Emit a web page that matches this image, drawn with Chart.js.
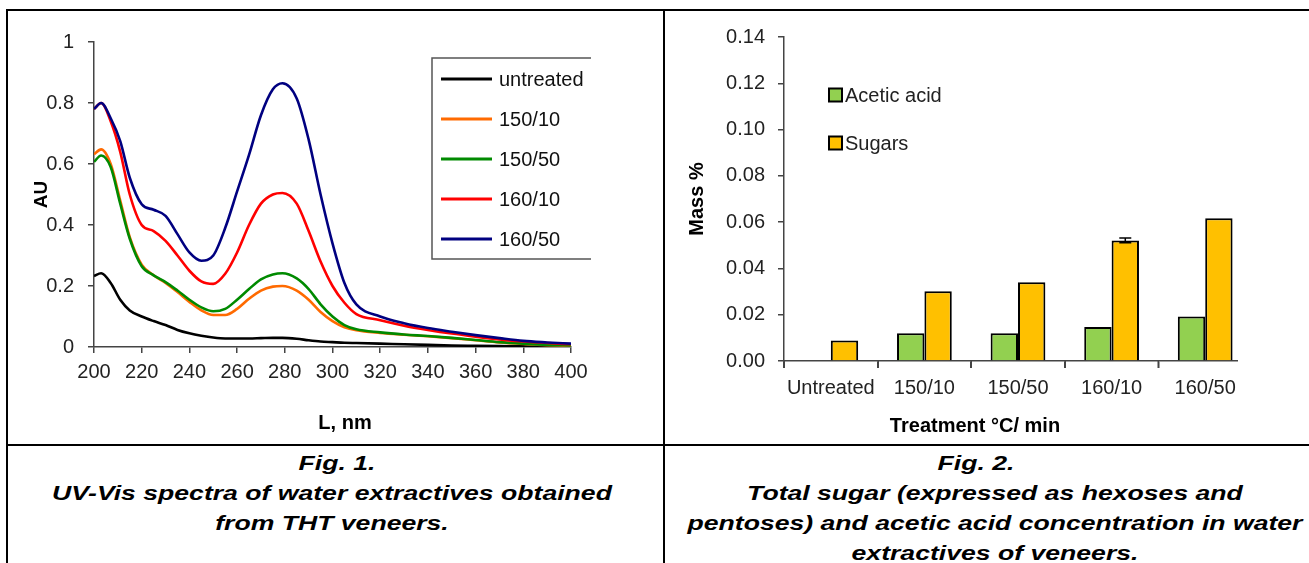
<!DOCTYPE html>
<html><head><meta charset="utf-8">
<script src="https://cdn.jsdelivr.net/npm/chart.js@4.4.1/dist/chart.umd.min.js"></script>
<style>
html,body{margin:0;padding:0;background:#fff;width:1309px;height:563px;overflow:hidden;position:relative;font-family:"Liberation Sans",Arial,sans-serif;}
.hl{position:absolute;background:#000;}
.clip{position:absolute;overflow:hidden;}
.cap{position:absolute;width:900px;text-align:center;font:italic bold 20px "Liberation Sans",Arial,sans-serif;line-height:30px;height:30px;white-space:nowrap;transform:scaleX(1.33);transform-origin:center;color:#000;}
</style></head><body>
<div class="hl" style="left:6px;top:9px;width:1303px;height:2px"></div>
<div class="hl" style="left:6px;top:9px;width:2px;height:554px"></div>
<div class="hl" style="left:663px;top:9px;width:2px;height:554px"></div>
<div class="hl" style="left:6px;top:444px;width:1303px;height:2px"></div>

<div class="clip" style="left:9px;top:12px;width:582px;height:432px"><canvas id="c1" width="672" height="432"></canvas></div>
<div class="clip" style="left:665px;top:12px;width:573px;height:432px"><canvas id="c2" width="620" height="432"></canvas></div>

<div class="cap" style="left:-113px;top:448px">Fig. 1.</div>
<div class="cap" style="left:-118px;top:478px">UV-Vis spectra of water extractives obtained</div>
<div class="cap" style="left:-118px;top:508px">from THT veneers.</div>
<div class="cap" style="left:526px;top:448px">Fig. 2.</div>
<div class="cap" style="left:545px;top:478px">Total sugar (expressed as hexoses and</div>
<div class="cap" style="left:545px;top:508px">pentoses) and acetic acid concentration in water</div>
<div class="cap" style="left:545px;top:538px">extractives of veneers.</div>

<script>
// ---------- Fig. 1 data (UV-Vis spectra) ----------
const wavelengths = [200,203,207,211,215,220,225,230,235,240,245,250,255,260,265,270,275,279,285,290,295,300,305,310,320,330,340,350,360,370,380,390,400];
const untreated = [0.233,0.242,0.21,0.155,0.12,0.10,0.085,0.072,0.056,0.045,0.037,0.031,0.028,0.028,0.028,0.029,0.030,0.030,0.027,0.022,0.018,0.016,0.014,0.013,0.011,0.009,0.007,0.005,0.004,0.003,0.002,0.001,0.001];
const t150_10 = [0.632,0.648,0.60,0.48,0.36,0.27,0.235,0.21,0.18,0.148,0.12,0.105,0.105,0.125,0.158,0.185,0.198,0.200,0.185,0.155,0.115,0.085,0.065,0.055,0.046,0.040,0.035,0.029,0.022,0.015,0.010,0.006,0.004];
const t150_50 = [0.607,0.628,0.59,0.47,0.355,0.265,0.235,0.213,0.185,0.155,0.13,0.117,0.125,0.155,0.19,0.222,0.238,0.242,0.225,0.19,0.14,0.10,0.072,0.058,0.048,0.041,0.036,0.030,0.023,0.016,0.011,0.007,0.005];
const t160_10 = [0.78,0.80,0.74,0.64,0.50,0.40,0.38,0.348,0.30,0.25,0.215,0.207,0.24,0.31,0.40,0.47,0.50,0.505,0.47,0.38,0.28,0.20,0.145,0.108,0.088,0.07,0.056,0.044,0.034,0.025,0.018,0.013,0.009];
const t160_50 = [0.78,0.80,0.75,0.675,0.555,0.468,0.45,0.43,0.37,0.31,0.283,0.30,0.39,0.51,0.63,0.76,0.845,0.865,0.815,0.68,0.50,0.34,0.21,0.14,0.10,0.078,0.062,0.05,0.039,0.029,0.02,0.015,0.011];
const spectraLabels = ['untreated','150/10','150/50','160/10','160/50'];
const spectraColors = ['#000000','#FF6A00','#008A00','#FF0000','#000080'];
const auTickLabels = ['0','0.2','0.4','0.6','0.8','1'];

// ---------- Fig. 2 data (sugars / acetic acid) ----------
const treatments = ['Untreated','150/10','150/50','160/10','160/50'];
const aceticAcid = [null,0.012,0.012,0.0147,0.0192];
const sugars = [0.0089,0.0301,0.034,0.0521,0.0617];
const sugarsErr = [0,0,0,0.001,0];
const massTickLabels = ['0.00','0.02','0.04','0.06','0.08','0.10','0.12','0.14'];

Chart.defaults.font.family = '"Liberation Sans", Arial, sans-serif';
Chart.defaults.color = '#222';
const AX = '#444';

const lineLegend = {
  id:'lineLegend',
  afterDraw(chart, args, o){
    const ctx = chart.ctx; ctx.save();
    ctx.strokeStyle = '#555'; ctx.lineWidth = 1.5;
    ctx.strokeRect(o.x, o.y, o.w, o.h);
    ctx.font = '20px "Liberation Sans", Arial, sans-serif';
    ctx.textBaseline = 'middle'; ctx.fillStyle = '#111';
    chart.data.datasets.forEach((d,i)=>{
      const yy = o.y + o.first + i*o.step;
      ctx.strokeStyle = d.borderColor; ctx.lineWidth = 3;
      ctx.beginPath(); ctx.moveTo(o.x+o.l0, yy); ctx.lineTo(o.x+o.l1, yy); ctx.stroke();
      ctx.fillText(d.label, o.x+o.tx, yy+1);
    });
    ctx.restore();
  }
};

const boxLegend = {
  id:'boxLegend',
  afterDraw(chart, args, o){
    const ctx = chart.ctx; ctx.save();
    ctx.font = '20px "Liberation Sans", Arial, sans-serif';
    ctx.textBaseline = 'middle';
    chart.data.datasets.forEach((d,i)=>{
      const yy = o.y + i*o.step;
      ctx.fillStyle = d.backgroundColor; ctx.fillRect(o.x, yy-o.s/2, o.s, o.s);
      ctx.strokeStyle = '#000'; ctx.lineWidth = 2; ctx.strokeRect(o.x, yy-o.s/2, o.s, o.s);
      ctx.fillStyle = '#222'; ctx.fillText(d.label, o.x+o.s+3, yy+1);
    });
    ctx.restore();
  }
};

const errorBars = {
  id:'errorBars',
  afterDatasetsDraw(chart, args, o){
    const meta = chart.getDatasetMeta(o.datasetIndex);
    const ys = chart.scales.y, ctx = chart.ctx;
    const vals = chart.data.datasets[o.datasetIndex].data;
    ctx.save(); ctx.strokeStyle = '#000'; ctx.lineWidth = 1.5;
    meta.data.forEach((bar,i)=>{
      const e = o.errors[i]; if(!e) return;
      const yt = ys.getPixelForValue(vals[i]+e), yb = ys.getPixelForValue(vals[i]-e);
      ctx.beginPath();
      ctx.moveTo(bar.x,yt); ctx.lineTo(bar.x,yb);
      ctx.moveTo(bar.x-6,yt); ctx.lineTo(bar.x+6,yt);
      ctx.moveTo(bar.x-6,yb); ctx.lineTo(bar.x+6,yb);
      ctx.stroke();
    });
    ctx.restore();
  }
};

// tick marks at category boundaries of the bar chart's x axis
const catTicks = {
  id:'catTicks',
  afterDraw(chart, args, o){
    const sx = chart.scales.x, ctx = chart.ctx;
    const n = chart.data.labels.length, w = (sx.right - sx.left) / n;
    ctx.save(); ctx.strokeStyle = o.color; ctx.lineWidth = 1.5;
    ctx.beginPath();
    for (let k = 0; k <= n; k++) {
      const px = Math.round(sx.left + k*w) + 0.25;
      ctx.moveTo(px, sx.top); ctx.lineTo(px, sx.top + o.len);
    }
    ctx.stroke(); ctx.restore();
  }
};

const series = [untreated,t150_10,t150_50,t160_10,t160_50];
new Chart(document.getElementById('c1'), {
  type:'line',
  data:{
    datasets: series.map((arr,i)=>({
      label: spectraLabels[i],
      data: wavelengths.map((x,j)=>({x:x, y:arr[j]})),
      borderColor: spectraColors[i],
      backgroundColor: spectraColors[i],
      borderWidth: 2.6,
      pointRadius: 0,
      cubicInterpolationMode: 'monotone',
      order: 4-i
    }))
  },
  options:{
    responsive:false, animation:false,
    layout:{padding:{top:30,bottom:9,left:0,right:0}},
    plugins:{
      legend:{display:false}, tooltip:{enabled:false},
      title:{display:true, position:'bottom', text:'L, nm', color:'#000', font:{size:20, weight:'bold'}, padding:0},
      lineLegend:{x:423, y:46, w:220, h:201, first:21, step:40, l0:9, l1:60, tx:67}
    },
    scales:{
      x:{type:'linear', min:200, max:400,
         ticks:{stepSize:20, font:{size:20}, padding:7, color:'#222', maxRotation:0, minRotation:0},
         grid:{drawOnChartArea:false, tickLength:6, color:AX, lineWidth:1.5},
         border:{color:AX, width:1.5},
         afterFit(s){ s.height = 64; }},
      y:{min:0, max:1,
         ticks:{stepSize:0.2, font:{size:20}, padding:14, color:'#222', callback:(v,i)=>auTickLabels[i]},
         grid:{drawOnChartArea:false, tickLength:6, color:AX, lineWidth:1.5},
         border:{color:AX, width:1.5},
         title:{display:true, text:'AU', color:'#000', font:{size:19, weight:'bold'}, padding:{top:21, bottom:0}},
         afterFit(s){ s.width = 85; }},
      yR:{position:'right', display:true, grid:{display:false}, border:{display:false}, ticks:{display:false},
         afterFit(s){ s.width = 110; }}
    }
  },
  plugins:[lineLegend]
});

new Chart(document.getElementById('c2'), {
  type:'bar',
  data:{
    labels: treatments,
    datasets:[
      {label:'Acetic acid', data:aceticAcid, backgroundColor:'#92D050', borderColor:'#000', borderWidth:2},
      {label:'Sugars', data:sugars, backgroundColor:'#FFC000', borderColor:'#000', borderWidth:2}
    ]
  },
  options:{
    responsive:false, animation:false,
    categoryPercentage:0.585, barPercentage:1.0,
    layout:{padding:{top:19,bottom:6,left:0,right:0}},
    plugins:{
      legend:{display:false}, tooltip:{enabled:false},
      title:{display:true, position:'bottom', text:'Treatment °C/ min', color:'#000', font:{size:20, weight:'bold'}, padding:0},
      boxLegend:{x:164, y:83, step:48, s:13},
      errorBars:{datasetIndex:1, errors:sugarsErr},
      catTicks:{color:AX, len:7}
    },
    scales:{
      x:{ticks:{font:{size:20}, padding:8, color:'#222', maxRotation:0, minRotation:0, autoSkip:false},
         grid:{drawOnChartArea:false, drawTicks:true, tickLength:7, color:AX, lineWidth:1.5, offset:true},
         border:{color:AX, width:1.5},
         afterFit(s){ s.height = 53; }},
      y:{min:0, max:0.14,
         ticks:{stepSize:0.02, font:{size:20}, padding:13, color:'#222', callback:(v,i)=>massTickLabels[i]},
         grid:{drawOnChartArea:false, tickLength:6, color:AX, lineWidth:1.5},
         border:{color:AX, width:1.5},
         title:{display:true, text:'Mass %', color:'#000', font:{size:20, weight:'bold'}, padding:{top:20, bottom:0}},
         afterFit(s){ s.width = 119; }},
      yR:{position:'right', display:true, grid:{display:false}, border:{display:false}, ticks:{display:false},
         afterFit(s){ s.width = 33; }}
    }
  },
  plugins:[boxLegend, errorBars, catTicks]
});
</script>
</body></html>
